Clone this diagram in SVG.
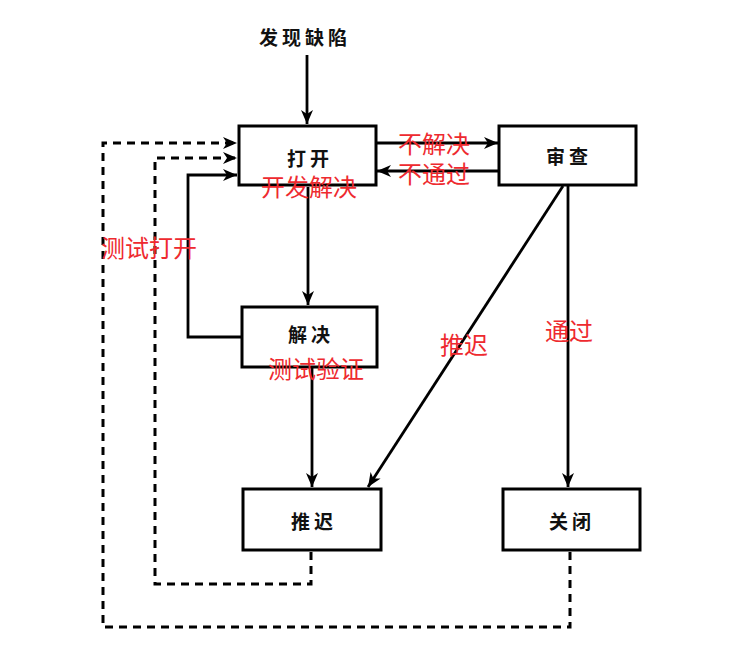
<svg xmlns="http://www.w3.org/2000/svg" width="739" height="645" viewBox="0 0 739 645">
<defs>
<marker id="ah" viewBox="0 0 14 12" refX="14" refY="6" markerWidth="14" markerHeight="12" markerUnits="userSpaceOnUse" orient="auto">
<path d="M0,0 L14,6 L0,12 L4,6 z" fill="#000"/>
</marker>
<style>
.box{fill:#fff;stroke:#000;stroke-width:3}
.ln{fill:none;stroke:#000;stroke-width:2.8;marker-end:url(#ah)}
.dash{fill:none;stroke:#000;stroke-width:3;stroke-dasharray:8 6;marker-end:url(#ah)}
.lbl{font-family:"Noto Sans CJK SC","Noto Sans",sans-serif;font-size:19px;font-weight:700;fill:#111;text-anchor:middle;dominant-baseline:central;letter-spacing:4px}
.red{font-family:"Noto Sans CJK SC","Noto Sans",sans-serif;font-size:24px;font-weight:400;fill:#ee2a2f;text-anchor:middle;dominant-baseline:central}
</style>
</defs>
<rect width="739" height="645" fill="#fff"/>
<g id="connectors">
<line class="ln" x1="307" y1="55" x2="307" y2="124"/>
<line class="ln" x1="308" y1="187" x2="308" y2="305"/>
<line class="ln" x1="312" y1="368" x2="312" y2="487"/>
<line class="ln" x1="563" y1="186" x2="368" y2="487"/>
<line class="ln" x1="568" y1="186" x2="568" y2="487"/>
<line class="ln" x1="377" y1="143" x2="498" y2="143"/>
<line class="ln" x1="498" y1="171" x2="377" y2="171"/>
<polyline class="ln" points="241,337 188,337 188,175 237,175"/>
<polyline class="dash" points="311,552 311,584 155,584 155,158 237,158"/>
<polyline class="dash" points="570,552 570,627 103,627 103,143 237,143"/>
</g>
<g id="start"><text class="lbl" x="305" y="36">发现缺陷</text></g>
<g id="open"><rect class="box" x="239" y="126" width="137" height="59"/><text class="lbl" x="310" y="157">打开</text></g>
<g id="review"><rect class="box" x="499" y="126" width="137" height="59"/><text class="lbl" x="569" y="155">审查</text></g>
<g id="resolve"><rect class="box" x="242" y="307" width="135" height="60"/><text class="lbl" x="311" y="333">解决</text></g>
<g id="defer"><rect class="box" x="243" y="489" width="138" height="61"/><text class="lbl" x="314" y="520">推迟</text></g>
<g id="close"><rect class="box" x="503" y="489" width="137" height="61"/><text class="lbl" x="572" y="520">关闭</text></g>
<g id="labels">
<text class="red" x="434" y="142">不解决</text>
<text class="red" x="434" y="172">不通过</text>
<text class="red" x="309" y="185">开发解决</text>
<text class="red" x="149" y="246">测试打开</text>
<text class="red" x="464" y="343">推迟</text>
<text class="red" x="569" y="329">通过</text>
<text class="red" x="316" y="367">测试验证</text>
</g>
</svg>
